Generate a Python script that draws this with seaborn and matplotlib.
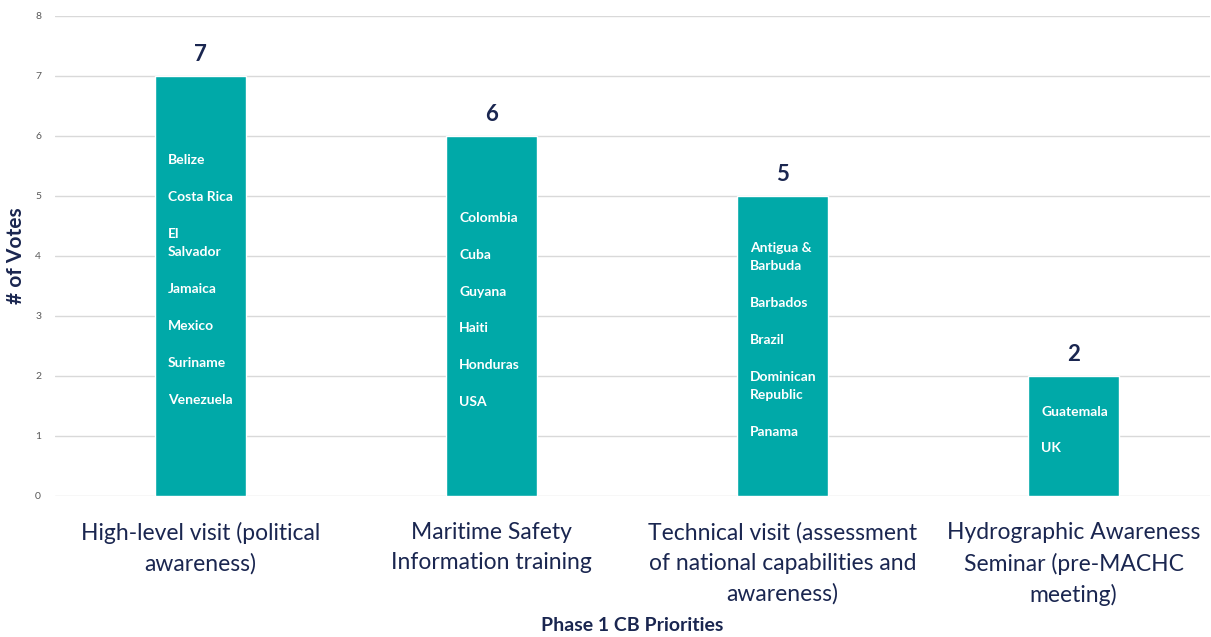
import pandas as pd
import matplotlib.pyplot as plt
import seaborn as sns

# data
priorities = [
    "High-level visit (political\nawareness)",
    "Maritime Safety\nInformation training",
    "Technical visit (assessment\nof national capabilities and\nawareness)",
    "Hydrographic Awareness\nSeminar (pre-MACHC\nmeeting)",
]
votes = [7, 6, 5, 2]
countries_high_level = ["Belize", "Costa Rica", "El\nSalvador", "Jamaica", "Mexico", "Suriname", "Venezuela"]
countries_msi = ["Colombia", "Cuba", "Guyana", "Haiti", "Honduras", "USA"]
countries_technical = ["Antigua &\nBarbuda", "Barbados", "Brazil", "Dominican\nRepublic", "Panama"]
countries_seminar = ["Guatemala", "UK"]
country_lists = [countries_high_level, countries_msi, countries_technical, countries_seminar]

df = pd.DataFrame({"priority": priorities, "votes": votes})

sns.set_style("white")
plt.rcParams['font.family'] = ['Lato', 'DejaVu Sans']

navy = "#1A2650"
teal = "#00A9A8"

fig = plt.figure(figsize=(12.11, 6.37), dpi=100)
ax = fig.add_axes([0.0454, 0.2214, 0.954, 0.7535])

sns.barplot(data=df, x="priority", y="votes", color=teal, width=0.31, saturation=1, ax=ax)

ax.set_ylim(0, 8)
ax.set_xlim(-0.5, 3.47)
ax.set_yticks(range(0, 9))
ax.grid(axis="y", color="#D9D9D9", linewidth=1)
ax.set_axisbelow(True)
sns.despine(ax=ax, left=True, bottom=True)
ax.tick_params(axis="y", length=0, labelsize=7.5, labelcolor="#595959", pad=10)
ax.tick_params(axis="x", length=0, labelsize=16.5, labelcolor=navy, pad=19)
for lbl in ax.get_xticklabels():
    lbl.set_linespacing(1.52)

# value labels on top
ax.bar_label(ax.containers[0], labels=[str(v) for v in votes], padding=8,
             fontsize=16, fontweight="bold", color=navy)

# country names inside bars
for patch, names in zip(ax.patches, country_lists):
    ax.text(patch.get_x() + patch.get_width() * 0.14, patch.get_height() / 2 + 0.1,
            "\n\n".join(names), ha="left", va="center", color="white",
            fontsize=10, fontweight="bold", linespacing=1.645)

ax.set_ylabel("# of Votes", fontsize=15, fontweight="bold", color=navy)
ax.yaxis.set_label_coords(-0.025, 0.5)
ax.set_xlabel("Phase 1 CB Priorities", fontsize=14, fontweight="bold", color=navy, labelpad=8)

fig.savefig("out.png", dpi=100)
